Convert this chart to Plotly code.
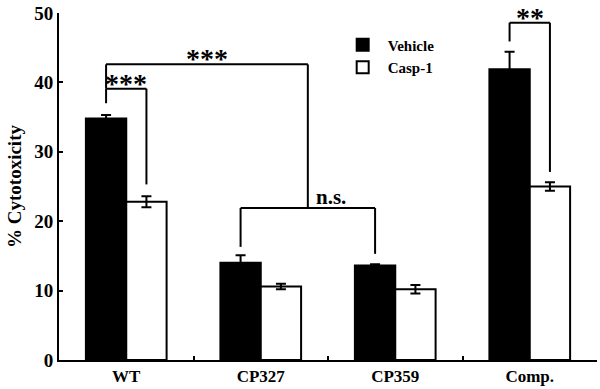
import plotly.graph_objects as go

# ---- data ----
categories = ["WT", "CP327", "CP359", "Comp."]
vehicle = [34.8, 14.0, 13.6, 41.9]
vehicle_err = [0.5, 1.1, 0.2, 2.5]
casp1 = [22.8, 10.6, 10.2, 25.0]
casp1_err = [0.8, 0.4, 0.6, 0.6]
y_ticks = [0, 10, 20, 30, 40, 50]

# significance brackets: legs given as (category index, series side -1/+1)
bracket_left_x = [(0, -1), (0, -1), (1, -1), (3, -1)]
bracket_right_x = [(0, 1), None, (2, -1), (3, 1)]
bracket_left_bottom = [37.0, 39.1, 16.3, 45.9]
bracket_top = [39.1, 42.6, 21.9, 48.6]
bracket_right_bottom = [25.3, 21.9, 15.3, 27.1]
bracket_labels = ["***", "***", "n.s.", "**"]

FONT = "Liberation Serif"
BAR_OFF = 0.15

fig = go.Figure()
fig.add_bar(
    name="Vehicle", x=categories, y=vehicle,
    marker=dict(color="black", line=dict(color="black", width=2)),
    error_y=dict(type="data", array=vehicle_err, color="black", thickness=2, width=5),
)
fig.add_bar(
    name="Casp-1", x=categories, y=casp1,
    marker=dict(color="white", line=dict(color="black", width=2)),
    error_y=dict(type="data", array=casp1_err, color="black", thickness=2, width=5),
)

def xpos(spec):
    g, s = spec
    return g + s * BAR_OFF

shapes = []
annotations = []
lx_list = [xpos(s) for s in bracket_left_x]
rx_list = [xpos(s) if s is not None else None for s in bracket_right_x]
# the big bracket lands on the middle of the n.s. bracket
rx_list[1] = (lx_list[2] + rx_list[2]) / 2

line = dict(color="black", width=2)
for i in range(len(bracket_labels)):
    x0, x1 = lx_list[i], rx_list[i]
    yt = bracket_top[i]
    shapes.append(dict(type="line", xref="x", yref="y", x0=x0, x1=x0, y0=bracket_left_bottom[i], y1=yt, line=line))
    shapes.append(dict(type="line", xref="x", yref="y", x0=x0, x1=x1, y0=yt, y1=yt, line=line))
    shapes.append(dict(type="line", xref="x", yref="y", x0=x1, x1=x1, y0=bracket_right_bottom[i], y1=yt, line=line))
    if bracket_labels[i] == "n.s.":
        annotations.append(dict(x=(x0 + x1) / 2, y=yt, xref="x", yref="y", text="n.s.",
                                showarrow=False, xanchor="left", yanchor="bottom", xshift=6, yshift=-3,
                                font=dict(family=FONT, size=21, color="black", weight="bold")))
    else:
        annotations.append(dict(x=(x0 + x1) / 2, y=yt, xref="x", yref="y", text=bracket_labels[i],
                                showarrow=False, xanchor="center", yanchor="bottom", yshift=-12,
                                font=dict(family=FONT, size=28, color="black", weight="bold")))

fig.update_layout(
    width=600, height=389,
    margin=dict(l=59, r=3, t=10, b=29, pad=0),
    paper_bgcolor="white", plot_bgcolor="white",
    barmode="group", bargap=0.4, bargroupgap=0,
    shapes=shapes, annotations=annotations,
    font=dict(family=FONT, color="black"),
    legend=dict(x=0.518, y=0.955, xanchor="left", yanchor="top", bgcolor="rgba(0,0,0,0)",
                font=dict(family=FONT, size=15, color="black", weight="bold"),
                itemwidth=40),
    xaxis=dict(
        type="category", range=[-0.5, 3.5],
        showline=True, linecolor="black", linewidth=2, mirror=False,
        ticks="inside", tickson="boundaries", ticklen=4, tickwidth=2, tickcolor="black",
        tickfont=dict(family=FONT, size=17, color="black", weight="bold"),
        showgrid=False, zeroline=False,
    ),
    yaxis=dict(
        range=[0, 50], tickvals=y_ticks,
        showline=True, linecolor="black", linewidth=2,
        ticks="inside", ticklen=4, tickwidth=2, tickcolor="black",
        tickfont=dict(family=FONT, size=19, color="black", weight="bold"),
        ticklabeloverflow="allow",
        showgrid=False, zeroline=False,
        title=dict(text="% Cytotoxicity", font=dict(family=FONT, size=19, color="black", weight="bold"), standoff=8),
    ),
)

fig.write_html("out.html", config={"displayModeBar": False},
               post_script="document.body.style.margin='0';document.body.style.padding='0';")
